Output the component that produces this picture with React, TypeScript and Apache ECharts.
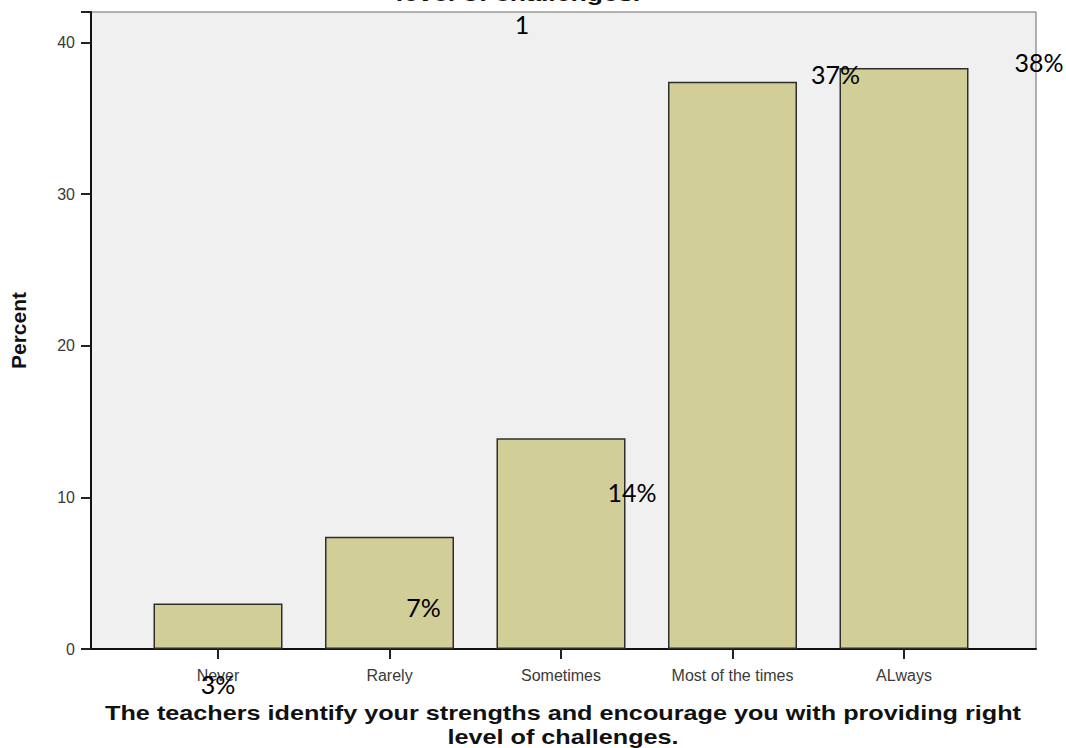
import React, { useEffect, useRef } from "react";
import * as echarts from "echarts";

// Response categories and their shares (percent of respondents)
const categories = ["Never", "Rarely", "Sometimes", "Most of the times", "ALways"];
const percentValues = [3.0, 7.4, 13.9, 37.4, 38.3];
const yTicks = { min: 0, max: 42, interval: 10 };

const xTitle =
  "The teachers identify your strengths and encourage you with providing right\nlevel of challenges.";
const yTitle = "Percent";

const BAR_FILL = "#d2ce98";
const BAR_EDGE = "#2e2e2e";
const PLOT_BG = "#f0f0f0";
const AXIS_FONT = "'Liberation Sans', Arial, sans-serif";
const NOTE_FONT = "Lato, 'Open Sans', sans-serif";

// Shifts of each percentage note relative to the top centre of its bar
const labelShift: [number, number][] = [
  [0, 93],
  [34, 83],
  [71, 66],
  [103, 5],
  [135, 6],
];

export default function App() {
  const ref = useRef<HTMLDivElement>(null);

  useEffect(() => {
    if (!ref.current) return;
    const chart = echarts.init(ref.current, null, { renderer: "svg" });

    const barData = percentValues.map((v, i) => ({
      value: v,
      label: { offset: labelShift[i] },
    }));

    chart.setOption({
      animation: false,
      backgroundColor: "#ffffff",
      grid: [
        // frame with the value axis
        {
          left: 84,
          top: 12,
          width: 952,
          height: 637,
          show: true,
          backgroundColor: PLOT_BG,
          borderColor: "#6a6a6a",
          borderWidth: 1,
          z: 0,
        },
        // bars and category ticks
        {
          left: 132.25,
          top: 12,
          width: 857.5,
          height: 637,
          z: 2,
        },
      ],
      xAxis: [
        {
          gridIndex: 0,
          type: "value",
          min: 0,
          max: 1,
          axisLine: { show: true, onZero: false, lineStyle: { color: "#111", width: 2 } },
          axisTick: { show: false },
          axisLabel: { show: false },
          splitLine: { show: false },
        },
        {
          gridIndex: 1,
          type: "category",
          data: categories,
          boundaryGap: true,
          axisLine: { show: false },
          axisTick: {
            show: true,
            alignWithLabel: true,
            length: 10,
            lineStyle: { color: "#222", width: 2 },
          },
          axisLabel: {
            color: "#3a3a3a",
            fontFamily: AXIS_FONT,
            fontSize: 16,
            margin: 18,
          },
        },
      ],
      yAxis: [
        {
          gridIndex: 0,
          type: "value",
          min: yTicks.min,
          max: yTicks.max,
          interval: yTicks.interval,
          name: yTitle,
          nameLocation: "middle",
          nameGap: 62,
          nameTextStyle: {
            fontFamily: AXIS_FONT,
            fontWeight: "bold",
            fontSize: 21,
            color: "#111",
          },
          axisLine: { show: true, onZero: false, lineStyle: { color: "#111", width: 2 } },
          axisTick: { show: true, length: 10, lineStyle: { color: "#222", width: 2 } },
          axisLabel: {
            color: "#3a3a3a",
            fontFamily: AXIS_FONT,
            fontSize: 16,
            margin: 16,
            formatter: (v: number) => (v % 10 === 0 && v <= 40 ? String(v) : ""),
          },
          splitLine: { show: false },
        },
        {
          gridIndex: 1,
          type: "value",
          min: yTicks.min,
          max: yTicks.max,
          interval: yTicks.interval,
          show: false,
        },
      ],
      series: [
        {
          type: "bar",
          xAxisIndex: 1,
          yAxisIndex: 1,
          data: barData,
          barWidth: 129,
          itemStyle: {
            color: BAR_FILL,
            borderColor: BAR_EDGE,
            borderWidth: 1.5,
          },
          label: {
            show: true,
            position: "top",
            distance: 0,
            fontFamily: NOTE_FONT,
            fontSize: 25,
            color: "#000",
            formatter: (p: any) => `${Math.round(p.value)}%`,
          },
          z: 3,
        },
      ],
      graphic: [
        {
          type: "text",
          x: 563,
          y: 725,
          scaleX: 1.23,
          style: {
            text: xTitle,
            x: 0,
            y: 0,
            align: "center",
            verticalAlign: "middle",
            fontFamily: AXIS_FONT,
            fontWeight: "bold",
            fontSize: 20.5,
            lineHeight: 24,
            fill: "#111",
          },
          z: 10,
        },
        {
          type: "text",
          x: 518,
          y: -6,
          scaleX: 1.3,
          style: {
            text: "level of challenges.",
            x: 0,
            y: 0,
            align: "center",
            verticalAlign: "middle",
            fontFamily: AXIS_FONT,
            fontWeight: "bold",
            fontSize: 20.5,
            fill: "#111",
          },
          z: 10,
        },
        {
          type: "text",
          style: {
            text: "1",
            x: 522,
            y: 24,
            align: "center",
            verticalAlign: "middle",
            fontFamily: NOTE_FONT,
            fontSize: 25,
            fill: "#000",
          },
          z: 10,
        },
      ],
    });

    return () => chart.dispose();
  }, []);

  return (
    <div
      ref={ref}
      style={{ position: "fixed", left: 0, top: 0, width: 1066, height: 748 }}
    />
  );
}
